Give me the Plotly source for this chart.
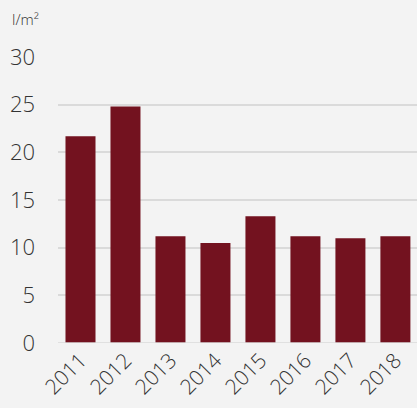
import plotly.graph_objects as go

years = ["2011", "2012", "2013", "2014", "2015", "2016", "2017", "2018"]
rainfall = [21.7, 24.8, 11.2, 10.5, 13.3, 11.2, 11.0, 11.2]
y_ticks = [0, 5, 10, 15, 20, 25, 30]
unit_label = "l/m²"

bar_color = "#73121f"
bg_color = "#f3f3f3"
grid_color = "#dadada"
text_color = "#333333"

fig = go.Figure(
    go.Bar(
        x=years,
        y=rainfall,
        marker=dict(color=bar_color, line=dict(width=0)),
        hoverinfo="x+y",
    )
)

fig.update_layout(
    width=417,
    height=408,
    margin=dict(l=58, r=0, t=57, b=65),
    paper_bgcolor=bg_color,
    plot_bgcolor=bg_color,
    bargap=0.333,
    showlegend=False,
    font=dict(family="Open Sans", color=text_color, weight=300),
    annotations=[
        dict(
            text=unit_label,
            xref="paper", yref="paper",
            x=-48 / 359, y=1 + 50 / 286,
            xanchor="left", yanchor="top",
            showarrow=False,
            font=dict(size=15, color=text_color, weight=300),
        )
    ],
)

fig.update_xaxes(
    type="category",
    range=[-0.5, 7.48],
    tickangle=-45,
    tickfont=dict(size=21, color=text_color, weight=300),
    showgrid=False,
    showline=False,
    ticks="",
    fixedrange=True,
)

fig.update_yaxes(
    range=[0, 30],
    tickvals=y_ticks,
    tickfont=dict(size=22, color=text_color, weight=300),
    showgrid=True,
    gridcolor=grid_color,
    gridwidth=1.5,
    zeroline=False,
    showline=False,
    ticks="",
    ticklabelstandoff=22,
    fixedrange=True,
)

# baseline drawn over the foot of the bars
fig.add_hline(y=0, line=dict(color=grid_color, width=1.5), layer="above")

fig.write_html("out.html")
